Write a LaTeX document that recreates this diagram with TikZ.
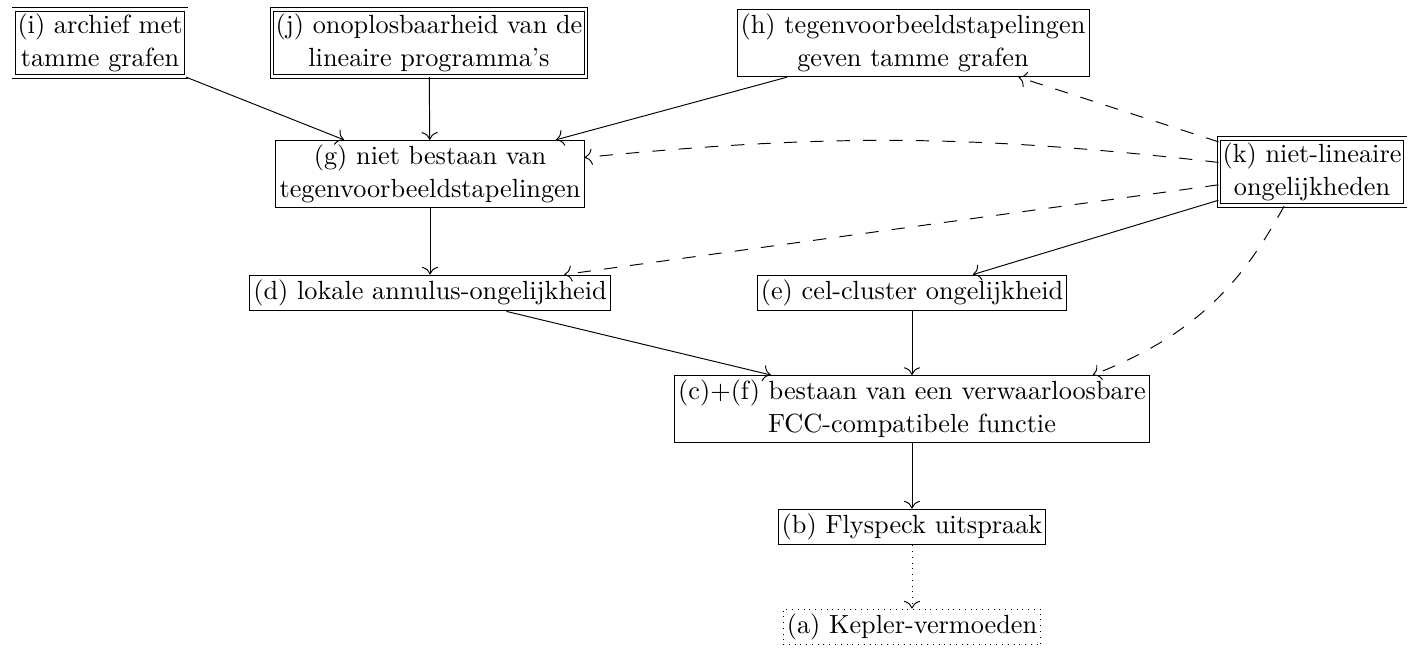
\documentclass[tikz,border=0pt]{standalone}
\usepackage{tikz}
\usetikzlibrary{positioning, arrows, arrows.meta}

\begin{document}
\begin{tikzpicture}[x=0.01465cm, y=-0.01465cm, >={To[scale=1.3]}, semithick,
    every node/.style={font=\fontsize{10.95}{13.6}\selectfont},
    stap/.style={draw, thin, align=center, inner xsep=1.5pt, inner ysep=2pt},
    basis/.style={stap, double, double distance=1.2pt},
    gevolg/.style={stap, dotted},
    impl/.style={->, thin},
    kijk/.style={->, thin, dash pattern=on 5.5pt off 5.5pt}]
    \useasboundingbox (0,0) rectangle (1418,650);

    \node[basis] (i) at (100,43) {(i) archief met\\tamme grafen};
    \node[basis] (j) at (429,43) {(j) onoplosbaarheid van de\\lineaire programma's};
    \node[stap] (h) at (913,43) {(h) tegenvoorbeeldstapelingen\\geven tamme grafen};
    \node[stap] (g) at (430,174) {(g) niet bestaan van\\tegenvoorbeeldstapelingen};
    \node[basis] (k) at (1312,172) {(k) niet-lineaire\\ongelijkheden};
    \node[stap] (d) at (430,293) {(d) lokale annulus-ongelijkheid};
    \node[stap] (e) at (912,293) {(e) cel-cluster ongelijkheid};
    \node[stap] (cf) at (912,409) {(c)+(f) bestaan van een verwaarloosbare\\FCC-compatibele functie};
    \node[stap] (b) at (912,527) {(b) Flyspeck uitspraak};
    \node[gevolg] (a) at (912,627) {(a) Kepler-vermoeden};

    \path[impl]
    (i) edge (g)
    (j) edge (g)
    (h) edge (g)
    (g) edge (d)
    (k) edge (e)
    (d) edge (cf)
    (e) edge (cf)
    (cf) edge (b);
    \path[kijk]
    (k) edge (h)
    (k) edge [bend right=6] (g)
    (k) edge (d)
    (k) edge [bend left=20] (cf);
    \draw[impl, dotted] (b) -- (a);
\end{tikzpicture}
\end{document}
